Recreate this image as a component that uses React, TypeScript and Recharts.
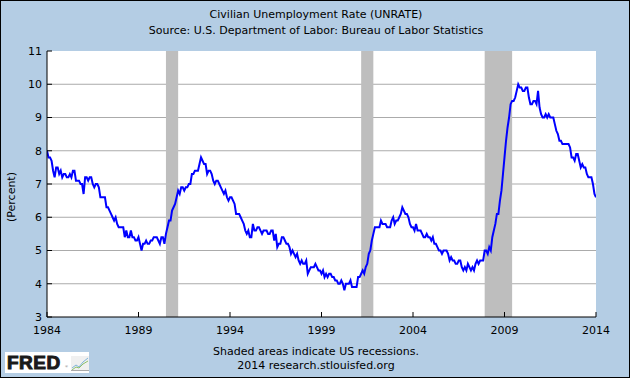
import React from 'react';
import { LineChart, Line, XAxis, YAxis, CartesianGrid, ReferenceArea } from 'recharts';

// Monthly civilian unemployment rate (%), Jan 1984 - Jan 2014
const rates1980s = [
  8.0, 7.8, 7.8, 7.7, 7.4, 7.2, 7.5, 7.5, 7.3, 7.4, 7.2, 7.3,
  7.3, 7.2, 7.2, 7.3, 7.2, 7.4, 7.4, 7.1, 7.1, 7.1, 7.0, 7.0,
  6.7, 7.2, 7.2, 7.1, 7.2, 7.2, 7.0, 6.9, 7.0, 7.0, 6.9, 6.6,
  6.6, 6.6, 6.6, 6.3, 6.3, 6.2, 6.1, 6.0, 5.9, 6.0, 5.8, 5.7,
  5.7, 5.7, 5.7, 5.4, 5.6, 5.4, 5.4, 5.6, 5.4, 5.4, 5.3, 5.3,
  5.4, 5.2, 5.0, 5.2, 5.2, 5.3, 5.2, 5.2, 5.3, 5.3, 5.4, 5.4,
];
const rates1990s = [
  5.4, 5.3, 5.2, 5.4, 5.4, 5.2, 5.5, 5.7, 5.9, 5.9, 6.2, 6.3,
  6.4, 6.6, 6.8, 6.7, 6.9, 6.9, 6.8, 6.9, 6.9, 7.0, 7.0, 7.3,
  7.3, 7.4, 7.4, 7.4, 7.6, 7.8, 7.7, 7.6, 7.6, 7.3, 7.4, 7.4,
  7.3, 7.1, 7.0, 7.1, 7.1, 7.0, 6.9, 6.8, 6.7, 6.8, 6.6, 6.5,
  6.6, 6.6, 6.5, 6.4, 6.1, 6.1, 6.1, 6.0, 5.9, 5.8, 5.6, 5.5,
  5.6, 5.4, 5.4, 5.8, 5.6, 5.6, 5.7, 5.7, 5.6, 5.5, 5.6, 5.6,
  5.6, 5.5, 5.5, 5.6, 5.6, 5.3, 5.5, 5.1, 5.2, 5.2, 5.4, 5.4,
  5.3, 5.2, 5.2, 5.1, 4.9, 5.0, 4.9, 4.8, 4.9, 4.7, 4.6, 4.7,
  4.6, 4.6, 4.7, 4.3, 4.4, 4.5, 4.5, 4.5, 4.6, 4.5, 4.4, 4.4,
  4.3, 4.4, 4.2, 4.3, 4.2, 4.3, 4.3, 4.2, 4.2, 4.1, 4.1, 4.0,
];
const rates2000s = [
  4.0, 4.1, 4.0, 3.8, 4.0, 4.0, 4.0, 4.1, 3.9, 3.9, 3.9, 3.9,
  4.2, 4.2, 4.3, 4.4, 4.3, 4.5, 4.6, 4.9, 5.0, 5.3, 5.5, 5.7,
  5.7, 5.7, 5.7, 5.9, 5.8, 5.8, 5.8, 5.7, 5.7, 5.7, 5.9, 6.0,
  5.8, 5.9, 5.9, 6.0, 6.1, 6.3, 6.2, 6.1, 6.1, 6.0, 5.8, 5.7,
  5.7, 5.6, 5.8, 5.6, 5.6, 5.6, 5.5, 5.4, 5.4, 5.5, 5.4, 5.4,
  5.3, 5.4, 5.2, 5.2, 5.1, 5.0, 5.0, 4.9, 5.0, 5.0, 5.0, 4.9,
  4.7, 4.8, 4.7, 4.7, 4.6, 4.6, 4.7, 4.7, 4.5, 4.4, 4.5, 4.4,
  4.6, 4.5, 4.4, 4.5, 4.4, 4.6, 4.7, 4.6, 4.7, 4.7, 4.7, 5.0,
  5.0, 4.9, 5.1, 5.0, 5.4, 5.6, 5.8, 6.1, 6.1, 6.5, 6.8, 7.3,
  7.8, 8.3, 8.7, 9.0, 9.4, 9.5, 9.5, 9.6, 9.8, 10.0, 9.9, 9.9,
];
const rates2010s = [
  9.8, 9.8, 9.9, 9.9, 9.6, 9.4, 9.4, 9.5, 9.5, 9.4, 9.8, 9.3,
  9.1, 9.0, 9.0, 9.1, 9.0, 9.1, 9.0, 9.0, 9.0, 8.8, 8.6, 8.5,
  8.3, 8.3, 8.2, 8.2, 8.2, 8.2, 8.2, 8.1, 7.8, 7.8, 7.7, 7.9,
  7.9, 7.7, 7.5, 7.6, 7.5, 7.5, 7.3, 7.2, 7.2, 7.2, 7.0, 6.7,
  6.6,
];
const startYear = 1984;

const xTicks = [1984, 1989, 1994, 1999, 2004, 2009, 2014];
const yTicks = [3, 4, 5, 6, 7, 8, 9, 10, 11];
const gridValues = [4, 5, 6, 7, 8, 9, 10];

// US recessions (decimal years)
const recessionStart = [1990.5, 2001.167, 2007.917];
const recessionEnd = [1991.167, 2001.833, 2009.417];

const title = 'Civilian Unemployment Rate (UNRATE)';
const subtitle = 'Source: U.S. Department of Labor: Bureau of Labor Statistics';
const yLabel = '(Percent)';
const note1 = 'Shaded areas indicate US recessions.';
const note2 = '2014 research.stlouisfed.org';

const allRates = [...rates1980s, ...rates1990s, ...rates2000s, ...rates2010s];
const data = allRates.map((v, i) => ({ t: startYear + i / 12, v }));

const FONT = '"DejaVu Sans", sans-serif';
const BG = '#B4CDE4';

const YTick = (props: any) => {
  const { x, y, payload } = props;
  return (
    <g>
      <line x1={x + 5} x2={x + 10} y1={y} y2={y} stroke="#000" strokeWidth={1} />
      <text x={x} y={y} dy="0.35em" textAnchor="end" fill="#000" fontSize={11} fontFamily={FONT}>
        {payload.value}
      </text>
    </g>
  );
};

const XTick = (props: any) => {
  const { x, y, payload } = props;
  return (
    <g>
      <line x1={x} x2={x} y1={y - 9} y2={y - 14} stroke="#000" strokeWidth={1} />
      <text x={x} y={y} dy="0.71em" textAnchor="middle" fill="#000" fontSize={11} fontFamily={FONT}>
        {payload.value}
      </text>
    </g>
  );
};

const textStyle: React.CSSProperties = {
  position: 'absolute',
  left: 0,
  width: 632,
  textAlign: 'center',
  fontFamily: FONT,
  fontSize: 11,
  color: '#000',
  lineHeight: '13px',
  whiteSpace: 'nowrap',
};

export default function App() {
  return (
    <div style={{ position: 'absolute', left: 0, top: 0, width: 630, height: 378, background: BG, overflow: 'hidden' }}>
      <div style={{ ...textStyle, top: 8 }}>{title}</div>
      <div style={{ ...textStyle, top: 24 }}>{subtitle}</div>
      <div
        style={{
          position: 'absolute',
          left: 12 - 40,
          top: 197 - 7,
          width: 80,
          height: 14,
          transform: 'rotate(-90deg)',
          textAlign: 'center',
          fontFamily: FONT,
          fontSize: 11,
          lineHeight: '14px',
        }}
      >
        {yLabel}
      </div>
      <div style={{ position: 'absolute', left: 0, top: 0 }}>
        <LineChart width={630} height={378} data={data} margin={{ top: 51, right: 34, bottom: 0, left: 0 }}>
          <CartesianGrid
            horizontal
            vertical={false}
            fill="#FFFFFF"
            fillOpacity={1}
            stroke="#ABABAB"
            horizontalValues={gridValues}
          />
          {recessionStart.map((s, i) => (
            <ReferenceArea
              key={i}
              x1={s}
              x2={recessionEnd[i]}
              y1={3}
              y2={11}
              fill="#BEBEBE"
              fillOpacity={1}
              stroke="none"
              ifOverflow="hidden"
            />
          ))}
          <XAxis
            dataKey="t"
            type="number"
            domain={[1984, 2014]}
            ticks={xTicks}
            interval={0}
            height={61}
            tickSize={0}
            tickMargin={9}
            tickLine={false}
            axisLine={{ stroke: '#000' }}
            tick={<XTick />}
            allowDataOverflow
          />
          <YAxis
            type="number"
            domain={[3, 11]}
            ticks={yTicks}
            interval={0}
            width={47}
            tickSize={0}
            tickMargin={5}
            tickLine={false}
            axisLine={{ stroke: '#000' }}
            tick={<YTick />}
            allowDataOverflow
          />
          <Line
            type="linear"
            dataKey="v"
            stroke="#0000FF"
            strokeWidth={2}
            dot={false}
            activeDot={false}
            isAnimationActive={false}
          />
        </LineChart>
      </div>
      <div style={{ ...textStyle, top: 345 }}>{note1}</div>
      <div style={{ ...textStyle, top: 359 }}>{note2}</div>
      <div
        style={{
          position: 'absolute',
          left: 5,
          top: 352,
          width: 84,
          height: 21,
          background: '#FFFFFF',
        }}
      >
        <div
          style={{
            position: 'absolute',
            left: 2,
            top: 1,
            fontFamily: '"Liberation Sans", Arial, sans-serif',
            fontWeight: 700,
            fontSize: 19,
            letterSpacing: 0.5,
            color: '#1a1a1a',
            WebkitTextStroke: '1px #1a1a1a',
            lineHeight: '20px',
          }}
        >
          FRED
        </div>
        <div style={{ position: 'absolute', left: 60, top: 13, fontSize: 4, color: '#555', lineHeight: '4px' }}>®</div>
        <svg width={18} height={15} style={{ position: 'absolute', left: 66, top: 4 }}>
          <rect x={0} y={0} width={18} height={15} fill="#F0F0F0" />
          <polyline points="1,12 5,9 8,11 12,6 17,2" fill="none" stroke="#7FB4D8" strokeWidth={1} />
          <polyline points="1,14 5,11 8,12 12,8 17,5" fill="none" stroke="#8CC06A" strokeWidth={1} />
          <line x1={0} y1={14.5} x2={18} y2={14.5} stroke="#AAA" strokeWidth={1} />
        </svg>
      </div>
      <div
        style={{
          position: 'absolute',
          left: 0,
          top: 0,
          width: 630,
          height: 378,
          boxSizing: 'border-box',
          border: '1px solid #000',
          pointerEvents: 'none',
        }}
      />
    </div>
  );
}
